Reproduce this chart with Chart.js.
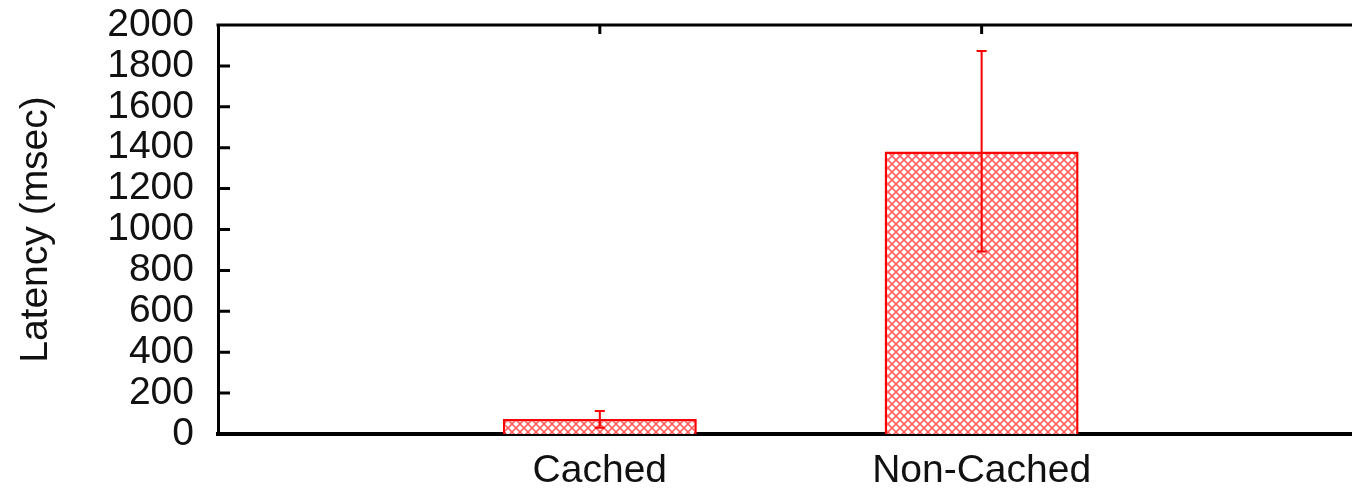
<!DOCTYPE html>
<html>
<head>
<meta charset="utf-8">
<script src="https://cdn.jsdelivr.net/npm/chart.js@4"></script>
<style>
  html, body { margin: 0; padding: 0; background: #fff; overflow: hidden; }
  #wrap { width: 1352px; height: 491px; }
</style>
</head>
<body>
<div id="wrap"><canvas id="c"></canvas></div>
<script>
// values
const categories = ['Cached', 'Non-Cached'];
const latency = [73, 1382];
const errLow = [30, 892];
const errHigh = [113, 1873];
const yTicks = [0, 200, 400, 600, 800, 1000, 1200, 1400, 1600, 1800, 2000];

const FONT = '"Liberation Sans", Arial, sans-serif';
const RED = '#ff0000';

// crosshatch fill like gnuplot's pattern
function hatch() {
  const s = 8;
  const c = document.createElement('canvas');
  c.width = s; c.height = s;
  const g = c.getContext('2d');
  g.fillStyle = '#fff';
  g.fillRect(0, 0, s, s);
  g.strokeStyle = 'rgba(255,0,0,0.62)';
  g.lineWidth = 1.6;
  g.beginPath();
  g.moveTo(0, 0); g.lineTo(s, s);
  g.moveTo(s, 0); g.lineTo(0, s);
  g.stroke();
  return g.createPattern(c, 'repeat');
}

const frame = {
  id: 'frame',
  afterDatasetsDraw(chart) {
    const { ctx, chartArea, scales } = chart;
    const x = scales.x, y = scales.y;
    ctx.save();
    // error bars
    ctx.strokeStyle = RED;
    ctx.lineWidth = 2;
    categories.forEach((c, i) => {
      const px = x.getPixelForValue(i);
      const lo = y.getPixelForValue(errLow[i]);
      const hi = y.getPixelForValue(errHigh[i]);
      ctx.beginPath();
      ctx.moveTo(px, lo); ctx.lineTo(px, hi);
      ctx.moveTo(px - 5, lo); ctx.lineTo(px + 5, lo);
      ctx.moveTo(px - 5, hi); ctx.lineTo(px + 5, hi);
      ctx.stroke();
    });
    // top border and inward ticks
    ctx.strokeStyle = '#000';
    ctx.lineWidth = 3;
    ctx.beginPath();
    ctx.moveTo(chartArea.left - 1.5, chartArea.top);
    ctx.lineTo(chart.width, chartArea.top);
    yTicks.forEach(v => {
      const py = y.getPixelForValue(v);
      ctx.moveTo(chartArea.left, py);
      ctx.lineTo(chartArea.left + 12, py);
    });
    categories.forEach((c, i) => {
      const px = x.getPixelForValue(i);
      ctx.moveTo(px, chartArea.top);
      ctx.lineTo(px, chartArea.top + 9);
    });
    ctx.stroke();
    ctx.restore();
  }
};

new Chart(document.getElementById('c'), {
  type: 'bar',
  data: {
    datasets: [{
      data: latency.map((v, i) => ({ x: i, y: v })),
      backgroundColor: hatch(),
      borderColor: RED,
      borderWidth: 2.5,
      borderSkipped: 'bottom',
      categoryPercentage: 1,
      barPercentage: 0.508
    }]
  },
  options: {
    responsive: true,
    maintainAspectRatio: false,
    animation: false,
    layout: { padding: { top: 25, left: 0, right: 0, bottom: 0 } },
    plugins: { legend: { display: false }, tooltip: { enabled: false } },
    scales: {
      x: {
        type: 'linear',
        offset: false,
        min: -1,
        max: 1.97,
        afterBuildTicks: s => { s.ticks = categories.map((c, i) => ({ value: i })); },
        afterFit: s => { s.height = 57; s.paddingLeft = 0; s.paddingRight = 0; },
        grid: { display: false, drawTicks: false },
        border: { display: true, color: '#000', width: 4 },
        ticks: {
          padding: 14,
          autoSkip: false,
          color: '#111',
          font: { family: FONT, size: 39 },
          maxRotation: 0,
          callback: v => categories[v] ?? ''
        }
      },
      y: {
        min: 0,
        max: 2000,
        afterBuildTicks: s => { s.ticks = yTicks.map(v => ({ value: v })); },
        afterFit: s => { s.width = 218; s.paddingTop = 0; s.paddingBottom = 0; },
        grid: { display: false, drawTicks: false },
        border: { display: true, color: '#000', width: 3 },
        ticks: {
          padding: 24,
          autoSkip: false,
          color: '#111',
          font: { family: FONT, size: 39 },
          callback: v => String(v)
        },
        title: {
          display: true,
          text: 'Latency (msec)',
          color: '#111',
          font: { family: FONT, size: 39 },
          padding: { top: 13, bottom: 0 }
        }
      }
    }
  },
  plugins: [frame]
});
</script>
</body>
</html>
